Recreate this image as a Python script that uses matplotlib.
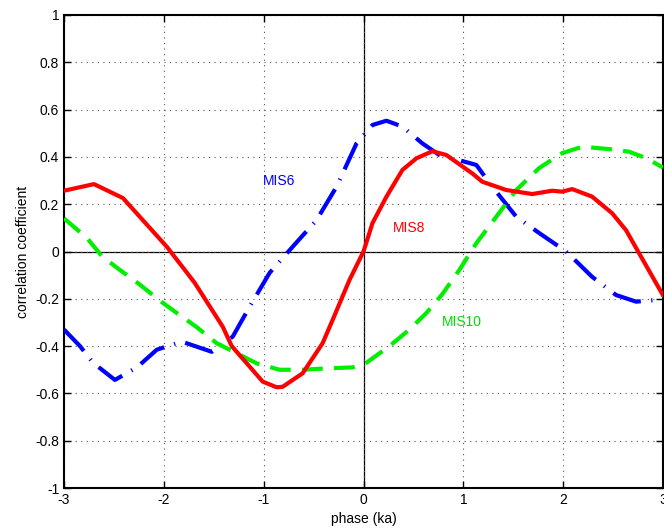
import matplotlib.pyplot as plt

plt.rcParams['font.family'] = ['Liberation Sans', 'DejaVu Sans']

# MIS6 (blue, dash-dot)
mis6_x = [-3.0, -2.84, -2.71, -2.49, -2.27, -2.07, -1.82, -1.52, -1.31, -1.14,
          -0.94, -0.71, -0.47, -0.27, -0.07, 0.09, 0.23, 0.39, 0.59, 0.76, 0.89,
          1.13, 1.29, 1.53, 1.76, 2.03, 2.29, 2.53, 2.73, 2.93, 3.0]
mis6_y = [-0.33, -0.40, -0.47, -0.543, -0.49, -0.415, -0.381, -0.424, -0.36, -0.233,
          -0.09, 0.02, 0.133, 0.274, 0.457, 0.535, 0.553, 0.528, 0.457, 0.408, 0.394,
          0.366, 0.274, 0.147, 0.078, 0.0, -0.107, -0.184, -0.212, -0.205, -0.20]

# MIS8 (red, solid)
mis8_x = [-3.0, -2.7, -2.41, -1.97, -1.79, -1.69, -1.41, -1.32, -1.14, -1.01, -0.87,
          -0.81, -0.61, -0.41, -0.31, -0.14, 0.0, 0.09, 0.23, 0.39, 0.53, 0.69, 0.83,
          1.09, 1.19, 1.43, 1.69, 1.89, 1.99, 2.09, 2.29, 2.49, 2.63, 2.76, 3.0]
mis8_y = [0.257, 0.285, 0.226, 0.02, -0.078, -0.133, -0.318, -0.40, -0.487, -0.55, -0.574,
          -0.572, -0.515, -0.388, -0.29, -0.12, 0.0, 0.12, 0.232, 0.345, 0.394, 0.424, 0.408,
          0.33, 0.295, 0.26, 0.243, 0.257, 0.253, 0.264, 0.232, 0.162, 0.09, -0.007, -0.185]

# MIS10 (green, dashed)
mis10_x = [-3.0, -2.77, -2.62, -2.44, -2.24, -2.04, -1.87, -1.67, -1.47, -1.27, -1.07,
           -0.84, -0.61, -0.37, -0.11, 0.03, 0.26, 0.46, 0.63, 0.79, 0.96, 1.13, 1.33,
           1.53, 1.76, 1.99, 2.19, 2.46, 2.66, 2.83, 3.0]
mis10_y = [0.14, 0.057, -0.02, -0.078, -0.14, -0.208, -0.26, -0.32, -0.388, -0.43, -0.473,
           -0.50, -0.50, -0.494, -0.49, -0.47, -0.40, -0.33, -0.26, -0.18, -0.078, 0.035, 0.147,
           0.26, 0.353, 0.416, 0.443, 0.433, 0.422, 0.395, 0.355]

fig = plt.figure(figsize=(6.64, 5.30), dpi=100)
ax = fig.add_axes([0.0964, 0.0792, 0.9021, 0.8925])

ax.axhline(0, color='black', linewidth=0.9, zorder=1)
ax.axvline(0, color='black', linewidth=0.9, zorder=1)

ax.plot(mis6_x, mis6_y, color='blue', linewidth=3, linestyle=(0, (7, 2.5, 0.3, 2.5)),
        zorder=3)
ax.plot(mis8_x, mis8_y, color='red', linewidth=3, linestyle='-', zorder=4)
ax.plot(mis10_x, mis10_y, color='#00ee00', linewidth=3, linestyle=(0, (5, 2.7)), zorder=3)

ax.text(-1.01, 0.30, 'MIS6', color='blue', fontsize=10, va='center')
ax.text(0.29, 0.10, 'MIS8', color='red', fontsize=10, va='center')
ax.text(0.79, -0.30, 'MIS10', color='#00dd00', fontsize=10, va='center')

ax.set_xlim(-3, 3)
ax.set_ylim(-1, 1)
ax.set_xticks([-3, -2, -1, 0, 1, 2, 3])
ax.set_yticks([-1, -0.8, -0.6, -0.4, -0.2, 0, 0.2, 0.4, 0.6, 0.8, 1])
ax.set_xticklabels(['-3', '-2', '-1', '0', '1', '2', '3'])
ax.set_yticklabels(['-1', '-0.8', '-0.6', '-0.4', '-0.2', '0', '0.2', '0.4', '0.6', '0.8', '1'])
ax.grid(True, linestyle=(0, (1, 4)), color='#555555', linewidth=0.8)
ax.tick_params(direction='in', top=True, right=True, labelsize=10, length=5, width=1)
for s in ax.spines.values():
    s.set_linewidth(1.5)

ax.set_xlabel('phase (ka)', fontsize=10, labelpad=4)
ax.set_ylabel('correlation coefficient', fontsize=10, labelpad=4)

fig.savefig('out.png', dpi=100)
